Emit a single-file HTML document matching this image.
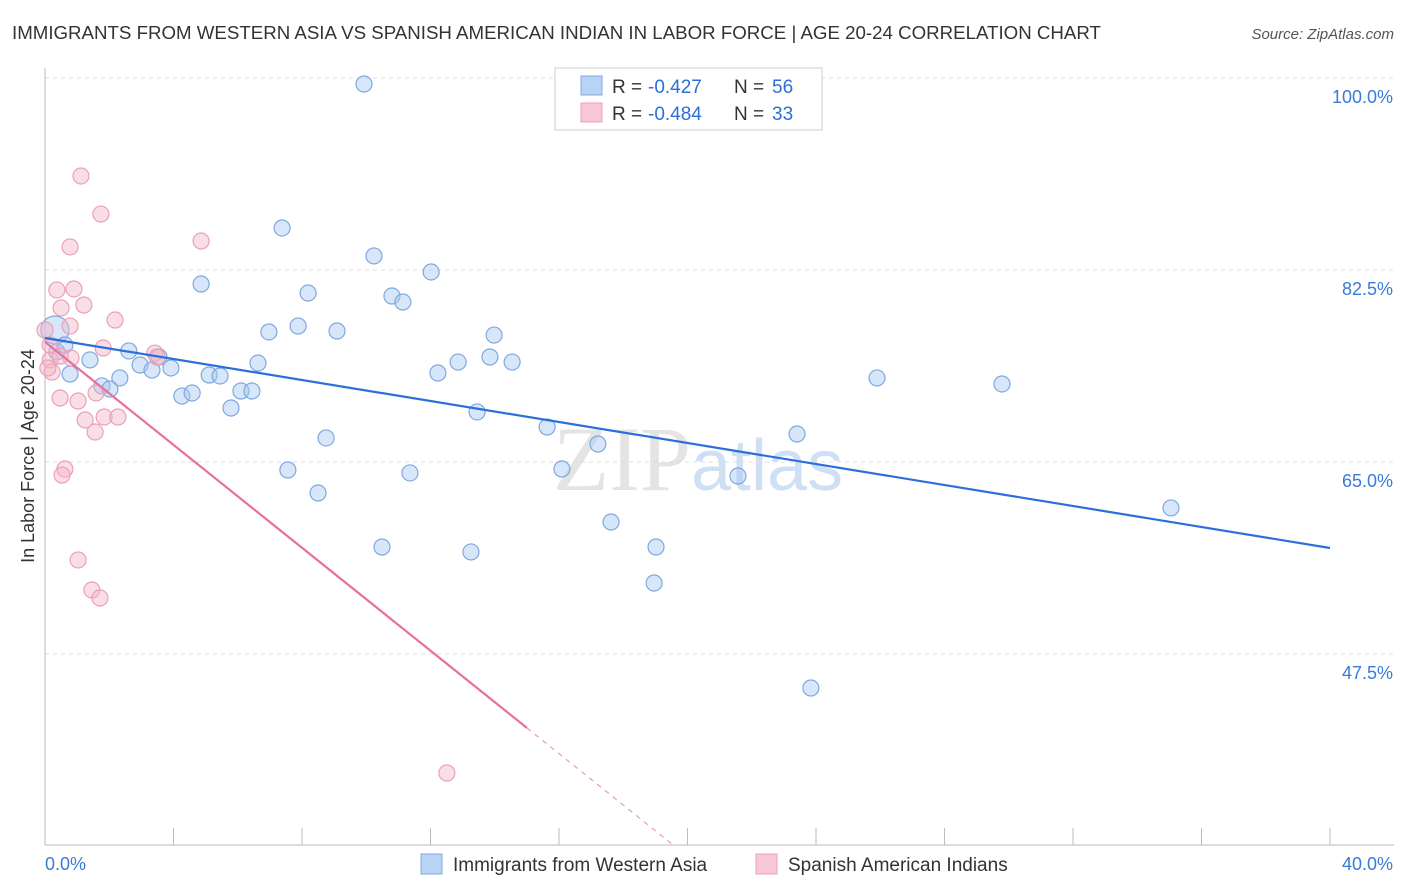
<!DOCTYPE html>
<html><head><meta charset="utf-8"><style>
body{margin:0;background:#fff;font-family:"Liberation Sans",sans-serif;}
#wrap{position:relative;width:1406px;height:892px;overflow:hidden;}
</style></head><body>
<div id="wrap">
<svg id="svg" width="1406" height="892" xmlns="http://www.w3.org/2000/svg">
<text x="12" y="39" font-size="18.7" fill="#333">IMMIGRANTS FROM WESTERN ASIA VS SPANISH AMERICAN INDIAN IN LABOR FORCE | AGE 20-24 CORRELATION CHART</text>
<text x="1394" y="39" font-size="15" fill="#555" font-style="italic" text-anchor="end">Source: ZipAtlas.com</text>
<text x="553" y="490" font-size="92" fill="#e4e4e4" font-family="Liberation Serif,serif">ZIP<tspan fill="#cfe0f4" font-family="Liberation Sans,sans-serif" font-size="72">atlas</tspan></text>
<text x="0" y="0" transform="translate(34,456) rotate(-90)" font-size="18" fill="#333" text-anchor="middle">In Labor Force | Age 20-24</text>
<g id="grid"></g><g id="axes"></g><g id="marks"></g>
<g>
<rect x="555" y="68" width="267" height="62" fill="#fff" stroke="#ccc"/>
<rect x="581" y="76" width="21" height="19" fill="#b9d3f4" stroke="#7fa8e0"/>
<rect x="581" y="103" width="21" height="19" fill="#f8c7d6" stroke="#eba0b8"/>
<text x="612" y="93" font-size="19" fill="#333">R =</text>
<text x="648" y="93" font-size="19" fill="#2a6fdb">-0.427</text>
<text x="734" y="93" font-size="19" fill="#333">N =</text>
<text x="772" y="93" font-size="19" fill="#2a6fdb">56</text>
<text x="612" y="120" font-size="19" fill="#333">R =</text>
<text x="648" y="120" font-size="19" fill="#2a6fdb">-0.484</text>
<text x="734" y="120" font-size="19" fill="#333">N =</text>
<text x="772" y="120" font-size="19" fill="#2a6fdb">33</text>
</g>
<g>
<rect x="421" y="854" width="21" height="20" fill="#b9d3f4" stroke="#7fa8e0"/>
<text x="453" y="871" font-size="19" fill="#333">Immigrants from Western Asia</text>
<rect x="756" y="854" width="21" height="20" fill="#f8c7d6" stroke="#eba0b8"/>
<text x="788" y="871" font-size="19" fill="#333">Spanish American Indians</text>
</g>
</svg>
</div>
<script>
const blueX=[9.93,7.38,10.24,12.02,4.86,8.19,10.80,11.14,7.88,6.97,9.09,13.98,0.31,0.37,1.40,2.61,3.55,2.96,3.92,3.33,0.78,2.33,6.63,12.86,13.85,14.54,12.23,5.11,5.45,1.77,2.02,6.10,6.44,4.26,4.58,5.79,13.45,15.63,8.75,17.21,23.41,25.90,29.79,7.56,11.36,16.09,21.57,8.50,35.05,17.62,10.49,13.26,19.02,18.96,23.84,0.62];
const blueY=[99.45,86.33,83.78,82.32,81.22,80.40,80.13,79.58,77.39,76.85,76.94,76.57,77.03,75.03,74.30,75.12,74.57,73.84,73.57,73.38,73.02,72.66,74.02,74.11,74.57,74.11,73.11,72.93,72.84,71.93,71.65,71.47,71.47,71.01,71.29,69.92,69.56,68.19,67.19,66.64,67.55,72.66,72.11,64.27,64.00,64.36,63.72,62.17,60.81,59.53,57.25,56.80,57.25,53.97,44.40,75.66];
const pinkX=[1.12,1.74,0.78,4.86,0.37,0.90,1.21,0.50,2.18,0.78,1.81,3.42,3.49,0.81,0.16,0.22,0.09,1.59,0.47,1.03,1.25,1.84,2.27,1.56,0.62,0.53,1.03,1.46,1.71,12.51,0.0,0.47,0.16];
const pinkY=[91.07,87.60,84.60,85.14,80.68,80.77,79.31,79.04,77.94,77.39,75.39,74.93,74.57,74.48,74.30,73.20,73.57,71.29,70.83,70.56,68.83,69.10,69.10,67.73,64.36,63.81,56.07,53.33,52.60,36.65,77.03,74.66,75.66];
const yTicks=[47.5,65.0,82.5,100.0];
const yTickLabels=["47.5%","65.0%","82.5%","100.0%"];
const xTicks=[0,4,8,12,16,20,24,28,32,36,40];
const blueTrend=[76.30,57.16];
const pinkTrend=[75.94,-2.345];
const pinkSolidEnd=15.0;
const NS="http://www.w3.org/2000/svg";
const sx=v=>45+v*32.125, sy=v=>78+(100-v)*10.971;
function mk(tag,attrs,parent){const e=document.createElementNS(NS,tag);for(const k in attrs)e.setAttribute(k,attrs[k]);document.getElementById(parent).appendChild(e);return e;}
yTicks.forEach((t,i)=>{
 const l=mk('line',{x1:45,x2:1394,y1:sy(t),y2:sy(t),stroke:'#ddd','stroke-dasharray':'4,4'},'grid');
 
 
 const tx=mk('text',{x:1393,y:sy(t)+25,'font-size':18,fill:'#3a7ad8','text-anchor':'end'},'grid');
 tx.textContent=yTickLabels[i];
 
 
});
const ax=mk('line',{x1:45,x2:1394,y1:845,y2:845,stroke:'#bbb'},'axes');


const ay=mk('line',{x1:45,x2:45,y1:68,y2:845,stroke:'#bbb'},'axes');


xTicks.forEach(t=>{
 const l=mk('line',{x1:sx(t),x2:sx(t),y1:828,y2:845,stroke:'#bbb'},'axes');
 
 
});
const x0=mk('text',{x:45,y:870,'font-size':18,fill:'#3a7ad8'},'axes');x0.textContent=xTicks[0].toFixed(1)+'%';


const x1=mk('text',{x:1393,y:870,'font-size':18,fill:'#3a7ad8','text-anchor':'end'},'axes');x1.textContent=xTicks[xTicks.length-1].toFixed(1)+'%';


blueX.forEach((x,i)=>{
 const c=mk('circle',{cx:sx(x),cy:sy(blueY[i]),r:i===12?14:8,fill:'rgba(167,199,240,0.45)',stroke:'#7fa8e0','stroke-width':1.2},'marks');
 
 
});
pinkX.forEach((x,i)=>{
 const c=mk('circle',{cx:sx(x),cy:sy(pinkY[i]),r:8,fill:'rgba(244,182,200,0.45)',stroke:'#eba0b8','stroke-width':1.2},'marks');
 
 
});
const bl=mk('line',{x1:sx(0),y1:sy(blueTrend[0]),x2:sx(40),y2:sy(blueTrend[1]),stroke:'#2a6fdb','stroke-width':2.2},'marks');


const pe=pinkTrend[0]+pinkTrend[1]*pinkSolidEnd;
const pl=mk('line',{x1:sx(0),y1:sy(pinkTrend[0]),x2:sx(pinkSolidEnd),y2:sy(pe),stroke:'#e8709a','stroke-width':2.2},'marks');


const yb=100-(845-78)/10.971, xb=(yb-pinkTrend[0])/pinkTrend[1];
const pd=mk('line',{x1:sx(pinkSolidEnd),y1:sy(pe),x2:sx(xb),y2:845,stroke:'#e8a0b8','stroke-width':1.2,'stroke-dasharray':'5,5'},'marks');


</script>
</body></html>
